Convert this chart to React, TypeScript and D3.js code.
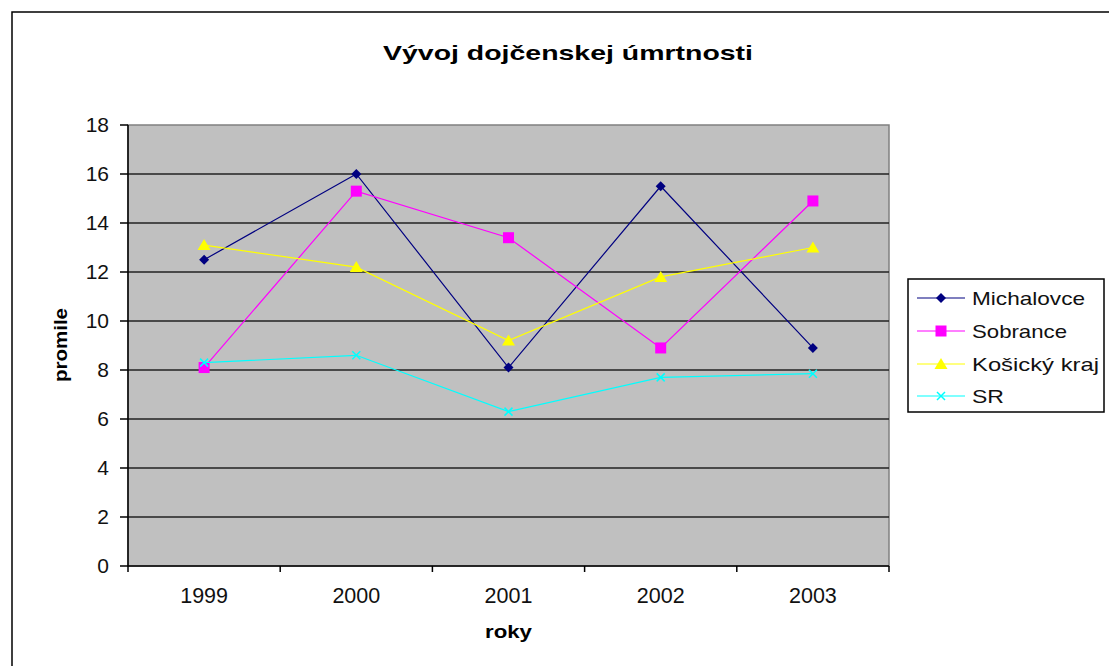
import React from "react";
import * as d3 from "d3";

const years = ["1999", "2000", "2001", "2002", "2003"];
const michalovce = [12.5, 16.0, 8.1, 15.5, 8.9];
const sobrance = [8.1, 15.3, 13.4, 8.9, 14.9];
const kosicky = [13.1, 12.2, 9.2, 11.8, 13.0];
const sr = [8.3, 8.6, 6.3, 7.7, 7.85];
const yTicks = [0, 2, 4, 6, 8, 10, 12, 14, 16, 18];

const seriesNames = ["Michalovce", "Sobrance", "Košický kraj", "SR"];
const seriesColors = ["#000080", "#FF00FF", "#FFFF00", "#00FFFF"];
const seriesMarkers = ["diamond", "square", "triangle", "x"];
const seriesData = [michalovce, sobrance, kosicky, sr];
const legendWidths = [113, 95, 127, 32];

const W = 1109;
const H = 666;
const plot = { left: 128, right: 889, top: 125, bottom: 566 };
const FONT = "'Liberation Sans', Arial, sans-serif";

function Marker({ type, x, y, color }: { type: string; x: number; y: number; color: string }) {
  if (type === "diamond") {
    const r = 5;
    return <path d={`M${x},${y - r}L${x + r},${y}L${x},${y + r}L${x - r},${y}Z`} fill={color} />;
  }
  if (type === "square") {
    const r = 5.5;
    return <rect x={x - r} y={y - r} width={2 * r} height={2 * r} fill={color} />;
  }
  if (type === "triangle") {
    return <path d={`M${x},${y - 6}L${x + 6.5},${y + 5}L${x - 6.5},${y + 5}Z`} fill={color} />;
  }
  const r = 4;
  return (
    <path
      d={`M${x - r},${y - r}L${x + r},${y + r}M${x - r},${y + r}L${x + r},${y - r}`}
      stroke={color}
      strokeWidth={1.5}
      fill="none"
    />
  );
}

export default function App() {
  const x = d3.scaleBand<string>().domain(years).range([plot.left, plot.right]);
  const y = d3.scaleLinear().domain([0, 18]).range([plot.bottom, plot.top]);
  const cx = (yr: string) => (x(yr) as number) + x.bandwidth() / 2;
  const line = d3
    .line<number>()
    .x((_, i) => cx(years[i]))
    .y((d) => y(d));

  const boundaries = years.map((yr) => x(yr) as number).concat([plot.right]);

  const legend = { x: 908, y: 279, w: 196, h: 133, rows: [298, 331, 364, 396] };

  return (
    <svg
      width={W}
      height={H}
      style={{ position: "absolute", left: 0, top: 0, background: "#fff" }}
      fontFamily={FONT}
    >
      <rect x={0} y={0} width={W} height={H} fill="#fff" />
      {/* chart border */}
      <rect x={12} y={12} width={W + 50} height={H + 50} fill="none" stroke="#000" strokeWidth={1.5} />

      {/* title */}
      <text
        x={568}
        y={60}
        textAnchor="middle"
        fontSize={21}
        fontWeight="bold"
        textLength={370}
        lengthAdjust="spacingAndGlyphs"
        fill="#000"
      >
        Vývoj dojčenskej úmrtnosti
      </text>

      {/* plot area */}
      <rect
        x={plot.left}
        y={plot.top}
        width={plot.right - plot.left}
        height={plot.bottom - plot.top}
        fill="#C0C0C0"
        stroke="#808080"
        strokeWidth={1.5}
      />
      {yTicks
        .filter((t) => t > 0 && t < 18)
        .map((t) => (
          <line
            key={t}
            x1={plot.left}
            x2={plot.right}
            y1={y(t)}
            y2={y(t)}
            stroke="#222"
            strokeWidth={1.3}
          />
        ))}

      {/* y axis */}
      <line x1={plot.left} x2={plot.left} y1={plot.top} y2={plot.bottom} stroke="#000" strokeWidth={1.5} />
      {yTicks.map((t) => (
        <g key={t}>
          <line x1={plot.left - 8} x2={plot.left} y1={y(t)} y2={y(t)} stroke="#000" strokeWidth={1.5} />
          <text x={109} y={y(t) + 7} textAnchor="end" fontSize={21} fill="#111">
            {t}
          </text>
        </g>
      ))}
      <text
        transform={`translate(67,345) rotate(-90)`}
        textAnchor="middle"
        fontSize={18}
        fontWeight="bold"
        textLength={74}
        lengthAdjust="spacingAndGlyphs"
        fill="#000"
      >
        promile
      </text>

      {/* x axis */}
      <line x1={plot.left} x2={plot.right} y1={plot.bottom} y2={plot.bottom} stroke="#000" strokeWidth={1.5} />
      {boundaries.map((b, i) => (
        <line key={i} x1={b} x2={b} y1={plot.bottom} y2={plot.bottom + 6} stroke="#000" strokeWidth={1.5} />
      ))}
      {years.map((yr) => (
        <text key={yr} x={cx(yr)} y={603} textAnchor="middle" fontSize={21.5} fill="#111">
          {yr}
        </text>
      ))}
      <text
        x={508.5}
        y={638}
        textAnchor="middle"
        fontSize={18}
        fontWeight="bold"
        textLength={47}
        lengthAdjust="spacingAndGlyphs"
        fill="#000"
      >
        roky
      </text>

      {/* series */}
      {seriesData.map((vals, si) => (
        <g key={si}>
          <path d={line(vals) || ""} fill="none" stroke={seriesColors[si]} strokeWidth={1.2} />
          {vals.map((v, i) => (
            <Marker key={i} type={seriesMarkers[si]} x={cx(years[i])} y={y(v)} color={seriesColors[si]} />
          ))}
        </g>
      ))}

      {/* legend */}
      <rect
        x={legend.x}
        y={legend.y}
        width={legend.w}
        height={legend.h}
        fill="#fff"
        stroke="#000"
        strokeWidth={1.5}
      />
      {seriesNames.map((name, si) => {
        const ry = legend.rows[si];
        return (
          <g key={name}>
            <line x1={917} x2={965} y1={ry} y2={ry} stroke={seriesColors[si]} strokeWidth={1.2} />
            <Marker type={seriesMarkers[si]} x={941} y={ry} color={seriesColors[si]} />
            <text
              x={972}
              y={ry + 7}
              fontSize={19}
              fill="#111"
              textLength={legendWidths[si]}
              lengthAdjust="spacingAndGlyphs"
            >
              {name}
            </text>
          </g>
        );
      })}
    </svg>
  );
}
